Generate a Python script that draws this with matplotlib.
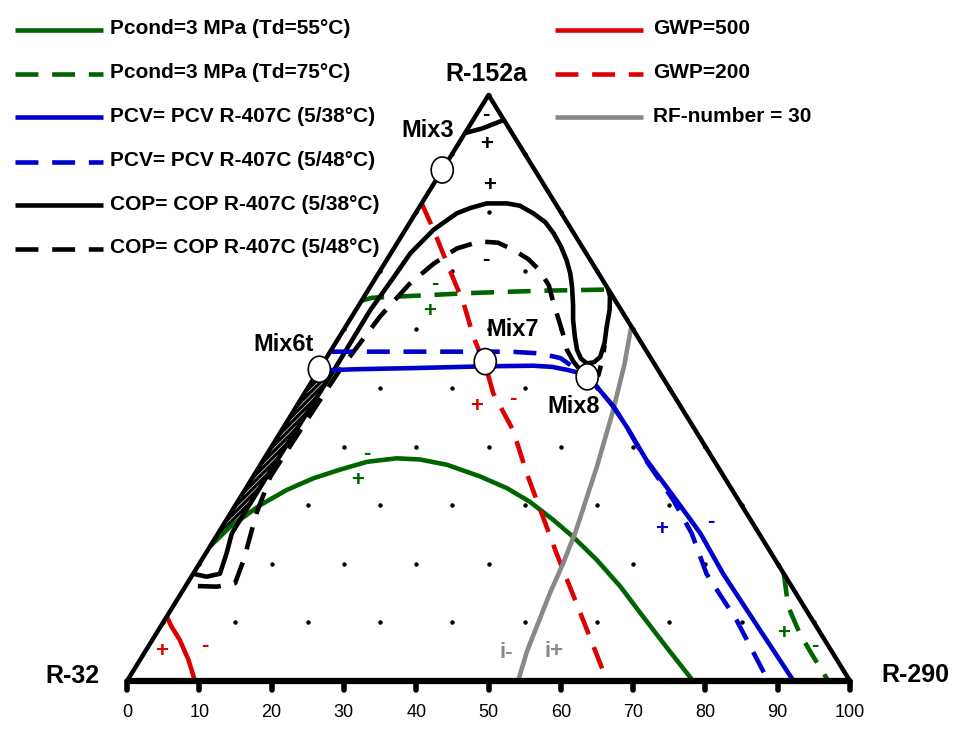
import numpy as np
import matplotlib
matplotlib.use('Agg')
import matplotlib.pyplot as plt
from matplotlib.patches import Ellipse

plt.rcParams['font.family'] = ['Liberation Sans', 'DejaVu Sans']
plt.rcParams['hatch.linewidth'] = 0.45

# compositions in % : R-290 and R-152a (R-32 = the rest)
pcond55_r290 = [0, 1.1, 3.4, 5.8, 8.5, 11.5, 14.5, 18.3, 21.6, 25.8, 31.4, 36.1, 40.4, 45.2, 49.4,
                54.6, 60.2, 65.2, 71.7, 78.3]
pcond55_r152a = [23.0, 26.3, 30.0, 32.6, 34.6, 36.1, 37.4, 38.0, 37.8, 36.9, 34.9, 32.9, 30.6, 27.5, 24.6,
                 20.7, 16.1, 11.6, 5.8, 0]

pcond75a_r290 = [0, 1.2, 8, 14.3, 24, 33.2]
pcond75a_r152a = [64.9, 65.4, 65.8, 66.2, 66.6, 66.8]
pcond75b_r290 = [81.7, 85.1, 89.0, 92.8, 97.0]
pcond75b_r152a = [18.3, 12.7, 8.1, 4.2, 0]

pcv38_r290 = [0.5, 5.0, 13.0, 22.7, 29.3, 32.0, 34.3, 36.2, 37.7, 39.9, 43.9, 47.4, 53.0, 60.5, 66.7,
              73.3, 83.2, 92.2]
pcv38_r152a = [53.0, 53.2, 53.4, 53.7, 53.8, 53.6, 53.1, 52.6, 51.9, 50.2, 46.8, 43.4, 37.7, 30.9, 25.2,
               18.3, 8.7, 0]

pcv48_r290 = [0, 12, 24.9, 29.2, 32.4, 34.9, 37.6, 39.9, 43.9, 47.4, 52.9, 60.1, 65.5, 71.0, 79.1, 88.7]
pcv48_r152a = [56.2, 56.2, 56.2, 55.9, 55.1, 53.6, 52.0, 50.2, 46.8, 43.4, 37.7, 30.9, 25.2, 18.3, 10.4, 0]

cop38_r290 = [0.0, 2.1, 3.7, 2.9, 1.9, 1.9, 2.0, 2.1, 2.0, 2.4, 2.7, 3.9, 5.7, 7.1, 9.0, 11.8, 13.8,
              16.3, 18.7, 20.8, 22.9, 24.9, 26.5, 27.9, 29.6, 30.9, 32.6, 34.0, 35.3, 36.5, 37.4, 37.8,
              37.2, 36.1, 35.1, 34.0, 33.1]
cop38_r152a = [18.3, 17.8, 18.3, 21.7, 25.2, 34.9, 44.0, 53.1, 63.3, 68.4, 73.0, 77.0, 79.8, 80.7, 81.5,
               81.5, 81.1, 79.8, 78.3, 76.4, 74.2, 71.8, 69.6, 67.3, 64.2, 61.6, 58.7, 56.5, 55.0, 54.2,
               54.4, 55.3, 57.7, 60.5, 63.3, 65.6, 66.9]
cop38top_r290 = [0, 2.0, 4.2]
cop38top_r152a = [93.5, 94.3, 95.7]

cop48_r290 = [1.7, 4.4, 6.6, 5.8, 3.6, 2.4, 2.6, 2.9, 3.9, 5.2, 6.8, 8.7, 11.3, 13.9, 16.6, 19.5, 22.0,
              24.6, 26.8, 29.0, 31.0, 32.6, 34.5, 36.1, 37.9, 39.1, 38.2, 37.4]
cop48_r152a = [16.2, 16.1, 16.7, 20.7, 28.6, 34.9, 44.0, 53.1, 62.2, 67.8, 71.2, 73.8, 75.0, 74.8, 73.6,
               72.0, 70.1, 67.5, 64.4, 61.5, 58.8, 56.5, 54.5, 53.1, 51.4, 52.2, 55.3, 57.3]

gwp500_r290 = [0, 1.5, 3.8, 6.7, 9.4]
gwp500_r152a = [11.0, 9.3, 7.0, 3.6, 0]

gwp200_r290 = [0, 3.9, 9.6, 14.3, 18.5, 23.2, 26.1, 32.0, 37.6, 48.5, 56.9, 66.4]
gwp200_r152a = [81.5, 77.0, 70.1, 64.5, 58.8, 53.1, 49.1, 42.8, 35.4, 21.8, 11.6, 0]

rf30_r290 = [39.5, 41.8, 44.2, 46.7, 49.3, 50.3, 51.0, 51.9, 52.8, 54.1]
rf30_r152a = [60.5, 54.0, 46.0, 36.6, 25.5, 20.0, 15.0, 10.0, 5.0, 0]

# feasible (hatched) zone
zone_r290 = [0, 0, 2.1, 2.0, 1.9, 1.9, 1.6, 1.1, 0]
zone_r152a = [23.0, 53.0, 53.1, 44.0, 34.9, 28.0, 27.4, 26.3, 23.0]

mix_names = ['Mix3', 'Mix6t', 'Mix7', 'Mix8']
mix_r290 = [0, 0, 22.3, 37.7]
mix_r152a = [87.2, 53.2, 54.5, 51.9]

tick_values = list(range(0, 101, 10))

left_labels = ['Pcond=3 MPa (Td=55°C)', 'Pcond=3 MPa (Td=75°C)', 'PCV= PCV R-407C (5/38°C)',
               'PCV= PCV R-407C (5/48°C)', 'COP= COP R-407C (5/38°C)', 'COP= COP R-407C (5/48°C)']
right_labels = ['GWP=500', 'GWP=200', 'RF-number = 30']

GREEN = '#006400'
BLUE = '#0000cc'
RED = '#dd0000'
GRAY = '#888888'
DASH = (0, (5, 3))
LW = 3.3


def tern(r290, r152a):
    r290 = np.asarray(r290, float)
    r152a = np.asarray(r152a, float)
    return r290 + r152a / 2.0, r152a


fig = plt.figure(figsize=(9.68, 7.36), dpi=100)
ax = fig.add_axes([0, 0, 1, 1])
ax.set_xlim(-17.566, 116.32)
ax.set_ylim(-9.386, 116.21)
ax.axis('off')

# grid dots every 10 %
gx, gy = [], []
for a in range(0, 101, 10):
    for b in range(0, 101 - a, 10):
        gx.append(b)
        gy.append(a)
x, y = tern(gx, gy)
ax.plot(x, y, 'o', color='black', ms=2.2, ls='none', zorder=1)

# hatched zone
x, y = tern(zone_r290, zone_r152a)
ax.fill(x, y, facecolor='black', edgecolor='white', hatch='//////', lw=0, zorder=2)

curves = [
    (pcond55_r290, pcond55_r152a, GREEN, '-'),
    (pcond75a_r290, pcond75a_r152a, GREEN, DASH),
    (pcond75b_r290, pcond75b_r152a, GREEN, DASH),
    (gwp500_r290, gwp500_r152a, RED, '-'),
    (gwp200_r290, gwp200_r152a, RED, DASH),
    (rf30_r290, rf30_r152a, GRAY, '-'),
    (cop38_r290, cop38_r152a, 'black', '-'),
    (cop38top_r290, cop38top_r152a, 'black', '-'),
    (cop48_r290, cop48_r152a, 'black', DASH),
    (pcv38_r290, pcv38_r152a, BLUE, '-'),
    (pcv48_r290, pcv48_r152a, BLUE, DASH),
]
for cr, ch, col, ls in curves:
    x, y = tern(cr, ch)
    ax.plot(x, y, color=col, ls=ls, lw=LW, solid_capstyle='butt', solid_joinstyle='round', zorder=3)

# triangle
ax.plot([0, 50, 100], [0, 100, 0], color='black', lw=3.2, zorder=4)
ax.plot([0, 100], [0, 0], color='black', lw=4.5, solid_capstyle='butt', zorder=4)
for t in tick_values:
    ax.plot([t, t], [0, -1.6], color='black', lw=4, solid_capstyle='round', zorder=4)
    ax.text(t, -5.3, str(t), ha='center', va='center', fontsize=13)

# mixtures
x, y = tern(mix_r290, mix_r152a)
for xi, yi in zip(x, y):
    ax.add_patch(Ellipse((xi, yi), 3.05, 4.45, facecolor='white', edgecolor='black', lw=1.2, zorder=6))
mix_label_pos = [(41.6, 93.9), (21.6, 57.5), (53.3, 59.9), (61.8, 46.8)]
for name, (tx, ty) in zip(mix_names, mix_label_pos):
    ax.text(tx, ty, name, ha='center', va='center', fontsize=17, fontweight='bold', zorder=7)

# corners
ax.text(49.75, 103.6, 'R-152a', ha='center', va='center', fontsize=18, fontweight='bold')
ax.text(-7.5, 0.9, 'R-32', ha='center', va='center', fontsize=18, fontweight='bold')
ax.text(109.1, 1.0, 'R-290', ha='center', va='center', fontsize=18, fontweight='bold')

# +/- side marks
signs = [
    (49.65, 96.6, '-', 'black'), (49.8, 91.5, '+', 'black'), (50.1, 84.6, '+', 'black'),
    (49.65, 72.0, '-', 'black'),
    (42.6, 67.9, '-', GREEN), (41.9, 63.0, '+', GREEN), (33.2, 38.9, '-', GREEN), (31.9, 34.2, '+', GREEN),
    (90.8, 8.1, '+', GREEN), (95.2, 6.1, '-', GREEN),
    (4.8, 5.0, '+', RED), (10.8, 6.0, '-', RED), (48.3, 46.8, '+', RED), (53.4, 48.2, '-', RED),
    (74.0, 25.8, '+', BLUE), (80.7, 27.2, '-', BLUE),
]
for sx, sy, s, col in signs:
    ax.text(sx, sy, s, ha='center', va='center', fontsize=16, fontweight='bold', color=col, zorder=7)
ax.text(52.4, 4.8, 'i-', ha='center', va='center', fontsize=16, fontweight='bold', color=GRAY, zorder=7)
ax.text(59.0, 5.0, 'i+', ha='center', va='center', fontsize=16, fontweight='bold', color=GRAY, zorder=7)

# legends (pixel layout)
W, H = 968.0, 736.0
left_styles = [(GREEN, '-'), (GREEN, DASH), (BLUE, '-'), (BLUE, DASH), ('black', '-'), ('black', DASH)]
left_rows = [30, 74, 117, 162, 205, 249]
for lab, (col, ls), py in zip(left_labels, left_styles, left_rows):
    ax.plot([15 / W, 103 / W], [1 - py / H] * 2, color=col, ls=ls, lw=LW, solid_capstyle='butt',
            transform=ax.transAxes)
    ax.text(110 / W, 1 - (py - 1) / H, lab, ha='left', va='center', fontsize=15, fontweight='bold',
            transform=ax.transAxes)
right_styles = [(RED, '-'), (RED, DASH), (GRAY, '-')]
right_rows = [30, 74, 117]
for lab, (col, ls), py in zip(right_labels, right_styles, right_rows):
    ax.plot([555 / W, 643 / W], [1 - py / H] * 2, color=col, ls=ls, lw=LW, solid_capstyle='butt',
            transform=ax.transAxes)
    ax.text(653 / W, 1 - (py - 1) / H, lab, ha='left', va='center', fontsize=15, fontweight='bold',
            transform=ax.transAxes)

fig.savefig('out.png', dpi=100)
